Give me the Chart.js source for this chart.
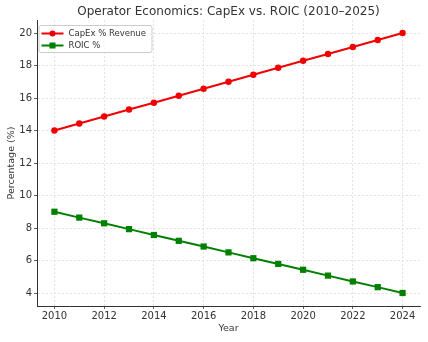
<!DOCTYPE html>
<html>
<head>
<meta charset="utf-8">
<script src="https://cdn.jsdelivr.net/npm/chart.js@4/dist/chart.umd.min.js"></script>
<style>
  html, body { margin: 0; padding: 0; background: #fff; }
  #wrap { width: 428px; height: 342px; }
</style>
</head>
<body>
<div id="wrap"><canvas id="chart" width="428" height="342"></canvas></div>
<script>
const years = [2010, 2011, 2012, 2013, 2014, 2015, 2016, 2017, 2018, 2019, 2020, 2021, 2022, 2023, 2024];
const capex = [14.0, 14.43, 14.86, 15.29, 15.71, 16.14, 16.57, 17.0, 17.43, 17.86, 18.29, 18.71, 19.14, 19.57, 20.0];
const roic = [9.0, 8.64, 8.29, 7.93, 7.57, 7.21, 6.86, 6.5, 6.14, 5.79, 5.43, 5.07, 4.71, 4.36, 4.0];
const xTicks = [2010, 2012, 2014, 2016, 2018, 2020, 2022, 2024];
const yTicks = [4, 6, 8, 10, 12, 14, 16, 18, 20];
const titleText = "Operator Economics: CapEx vs. ROIC (2010–2025)";

const textColor = "#333";
const font = "DejaVu Sans";

// title centred over the plot area (matplotlib style), not over the canvas
const axesTitle = {
  id: "axesTitle",
  afterDraw(chart) {
    const { ctx, chartArea } = chart;
    ctx.save();
    ctx.fillStyle = textColor;
    ctx.font = "12px '" + font + "'";
    ctx.textAlign = "center";
    ctx.textBaseline = "middle";
    ctx.fillText(titleText, (chartArea.left + chartArea.right) / 2, 12);
    ctx.restore();
  }
};

// legend box inside the plot, top-left
const boxLegend = {
  id: "boxLegend",
  afterDatasetsDraw(chart) {
    const { ctx, chartArea } = chart;
    const x0 = chartArea.left + 1.5, y0 = chartArea.top + 5;
    const w = 113, h = 27;
    ctx.save();
    ctx.fillStyle = "rgba(255,255,255,0.85)";
    ctx.strokeStyle = "#ccc";
    ctx.lineWidth = 1;
    ctx.beginPath();
    ctx.roundRect(x0 + 0.5, y0 + 0.5, w, h, 2);
    ctx.fill();
    ctx.stroke();
    chart.data.datasets.forEach((ds, i) => {
      const y = y0 + 8.5 + i * 12;
      ctx.strokeStyle = ds.borderColor;
      ctx.lineWidth = 2;
      ctx.beginPath();
      ctx.moveTo(x0 + 3, y);
      ctx.lineTo(x0 + 25, y);
      ctx.stroke();
      ctx.fillStyle = ds.borderColor;
      if (ds.pointStyle === "rect") {
        ctx.fillRect(x0 + 11, y - 3, 6, 6);
      } else {
        ctx.beginPath();
        ctx.arc(x0 + 14, y, 3, 0, Math.PI * 2);
        ctx.fill();
      }
      ctx.fillStyle = textColor;
      ctx.font = "8.5px '" + font + "'";
      ctx.textBaseline = "middle";
      ctx.fillText(ds.label, x0 + 30, y + 0.5);
    });
    ctx.restore();
  }
};

new Chart(document.getElementById("chart"), {
  type: "line",
  data: {
    datasets: [
      {
        label: "CapEx % Revenue",
        data: years.map((y, i) => ({ x: y, y: capex[i] })),
        borderColor: "#f00000",
        backgroundColor: "#f00000",
        borderWidth: 2,
        pointStyle: "circle",
        pointRadius: 3.2,
        pointBorderWidth: 0,
        tension: 0
      },
      {
        label: "ROIC %",
        data: years.map((y, i) => ({ x: y, y: roic[i] })),
        borderColor: "#008000",
        backgroundColor: "#008000",
        borderWidth: 2,
        pointStyle: "rect",
        pointRadius: 4.4,
        pointBorderWidth: 0,
        tension: 0
      }
    ]
  },
  options: {
    responsive: false,
    animation: false,
    layout: { padding: { left: 0, right: 8, top: 20, bottom: 0 } },
    plugins: {
      legend: { display: false },
      tooltip: { enabled: false },
      title: { display: false }
    },
    scales: {
      x: {
        type: "linear",
        min: 2009.3,
        max: 2024.7,
        afterBuildTicks: s => { s.ticks = xTicks.map(v => ({ value: v })); },
        afterFit: s => { s.height = 36; },
        ticks: {
          color: textColor,
          font: { family: font, size: 10 },
          padding: 1,
          maxRotation: 0,
          callback: v => String(v)
        },
        grid: { color: "#dedede", tickColor: textColor, tickLength: 3, lineWidth: 0.8 },
        border: { display: true, color: textColor, width: 1, dash: [2, 2] },
        title: {
          display: true,
          text: "Year",
          color: textColor,
          font: { family: font, size: 9.5 },
          padding: { top: 0, bottom: 8 }
        }
      },
      y: {
        type: "linear",
        min: 3.2,
        max: 20.8,
        afterBuildTicks: s => { s.ticks = yTicks.map(v => ({ value: v })); },
        afterFit: s => { s.width = 37; },
        ticks: {
          color: textColor,
          font: { family: font, size: 10 },
          padding: 2
        },
        grid: { color: "#dedede", tickColor: textColor, tickLength: 3, lineWidth: 0.8 },
        border: { display: true, color: textColor, width: 1, dash: [2, 2] },
        title: {
          display: true,
          text: "Percentage (%)",
          color: textColor,
          font: { family: font, size: 9.5 },
          padding: { top: 6, bottom: 0 }
        }
      }
    }
  },
  plugins: [boxLegend, axesTitle]
});
</script>
</body>
</html>
